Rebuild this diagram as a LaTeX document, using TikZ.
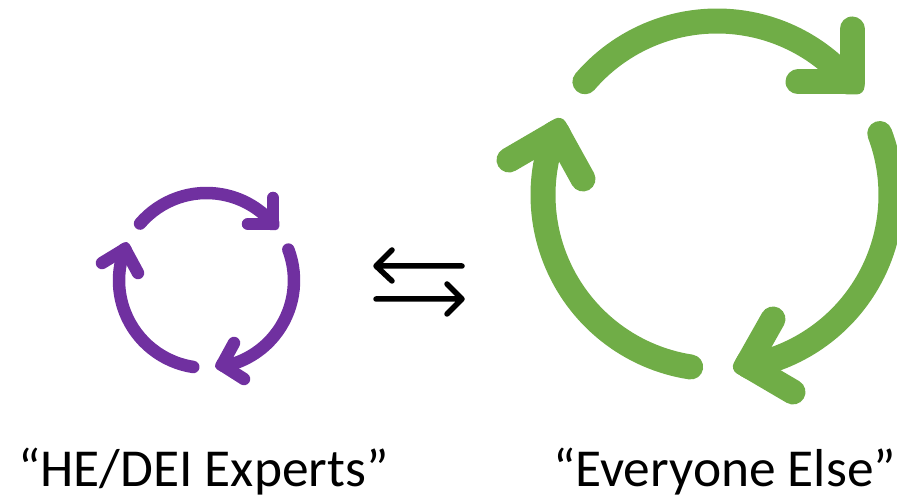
\documentclass[tikz,border=0pt]{standalone}
\usepackage{fontspec}
\usetikzlibrary{calc}
\setmainfont{Carlito}
\definecolor{cyclegreen}{HTML}{70AD47}
\definecolor{cyclepurple}{HTML}{7030A0}
\tikzset{
  x=1pt,y=1pt,
  greenarc/.style={draw=cyclegreen,line width=25pt,line cap=round,line join=round},
  purplearc/.style={draw=cyclepurple,line width=12.5pt,line cap=round,line join=round},
  greentip/.style={fill=cyclegreen,rounded corners=8pt},
  purpletip/.style={fill=cyclepurple,rounded corners=4pt},
  swap/.style={draw=black,line width=5.5pt,line cap=round,line join=round},
  caption/.style={inner sep=0pt,anchor=base west,font=\fontsize{53.4}{60}\selectfont}
}
\begin{document}
\begin{tikzpicture}
\useasboundingbox (0,0) rectangle (897,498);
% green cycle
\coordinate (gc) at (717,303);
\draw[greenarc] ($(gc)+(139.4:174pt)$) arc[start angle=139.4,end angle=42,radius=174pt];
\draw[greenarc] (852,469) -- (852,416) -- (798,416);
\fill[greentip,shift={(852,416)}] (-12.5,-12.5) rectangle (12.5,12.5);
\draw[greenarc] ($(gc)+(20.7:174pt)$) arc[start angle=20.7,end angle=-78,radius=174pt];
\draw[greenarc] (773,179) -- (747,133) -- (793,106);
\fill[greentip,shift={(747,133)},rotate=-30] (-12.5,-12.5) rectangle (12.5,12.5);
\draw[greenarc] ($(gc)+(-98.7:174pt)$) arc[start angle=-98.7,end angle=-199.5,radius=174pt];
\draw[greenarc] (509,338) -- (557,366) -- (583,319);
\fill[greentip,shift={(557,366)},rotate=30] (-12.5,-12.5) rectangle (12.5,12.5);
% purple cycle
\coordinate (pc) at (206.5,217.5);
\draw[purplearc] ($(pc)+(139.4:87.5pt)$) arc[start angle=139.4,end angle=42,radius=87.5pt];
\draw[purplearc] (273,300) -- (273,274) -- (248,274);
\fill[purpletip,shift={(273,274)}] (-6.25,-6.25) rectangle (6.25,6.25);
\draw[purplearc] ($(pc)+(20.7:87.5pt)$) arc[start angle=20.7,end angle=-78,radius=87.5pt];
\draw[purplearc] (234,155) -- (222,133) -- (244,119);
\fill[purpletip,shift={(222,133)},rotate=-30] (-6.25,-6.25) rectangle (6.25,6.25);
\draw[purplearc] ($(pc)+(-98.7:87.5pt)$) arc[start angle=-98.7,end angle=-199.5,radius=87.5pt];
\draw[purplearc] (102,235) -- (125,249) -- (138,225);
\fill[purpletip,shift={(125,249)},rotate=30] (-6.25,-6.25) rectangle (6.25,6.25);
% exchange arrows
\coordinate (la) at (462,232);
\coordinate (lb) at (376,232);
\coordinate (ra) at (376,199);
\coordinate (rb) at (462,199);
\draw[swap] (la) -- (lb) (392,248) -- (lb) -- (392,217);
\draw[swap] (ra) -- (rb) (447,214) -- (rb) -- (447,184);
% captions
\node[caption] (experts) at (18,11) {“HE/DEI Experts”};
\node[caption] (everyone) at (553,11) {“Everyone Else”};
\end{tikzpicture}
\end{document}
